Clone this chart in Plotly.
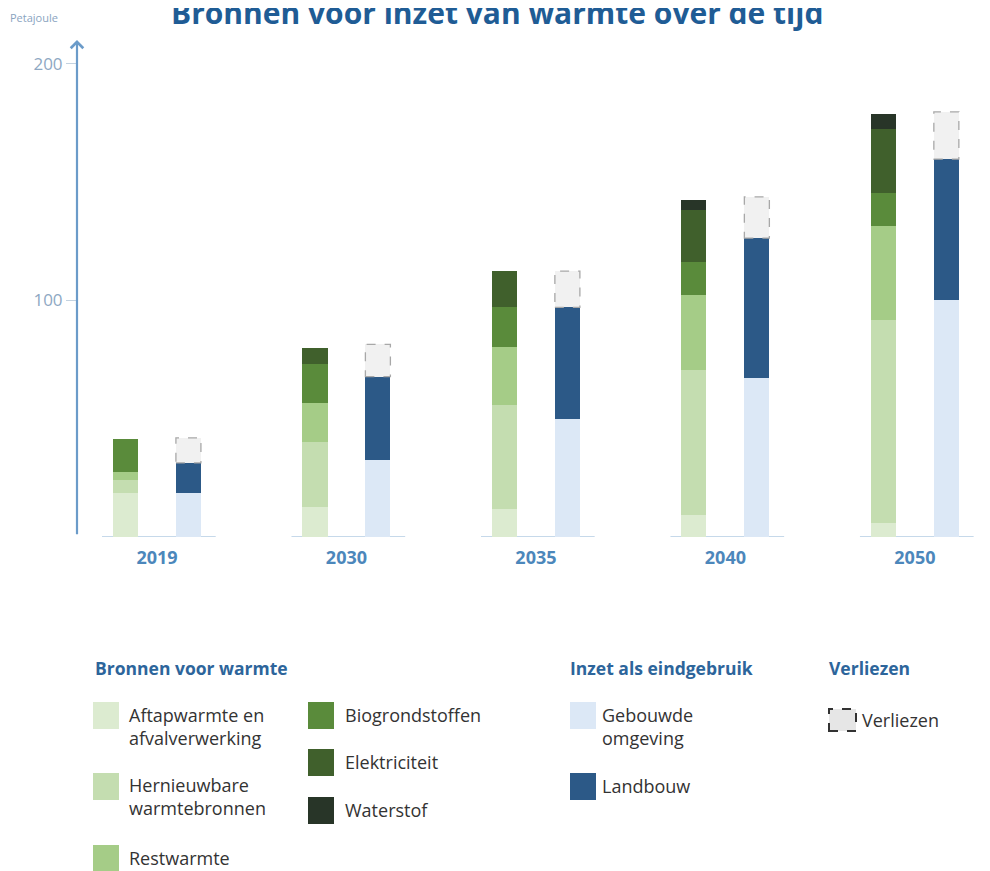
import plotly.graph_objects as go

# ---------------- data (Petajoule) ----------------
years = ["2019", "2030", "2035", "2040", "2050"]

# Bronnen voor warmte
aftapwarmte = [18.6, 12.7, 11.9, 9.3, 5.9]
hernieuwbaar = [5.5, 27.5, 44.0, 61.4, 85.6]
restwarmte = [3.4, 16.5, 24.2, 31.4, 39.8]
biogrondstoffen = [14.0, 16.5, 16.9, 14.0, 14.0]
elektriciteit = [0.0, 6.8, 15.3, 22.0, 27.1]
waterstof = [0.0, 0.0, 0.0, 4.2, 6.4]

# Inzet als eindgebruik
gebouwde_omgeving = [18.6, 32.6, 50.0, 67.0, 100.0]
landbouw = [12.7, 35.2, 47.0, 59.3, 59.7]

# Verliezen
verliezen = [10.6, 13.6, 15.3, 17.4, 19.9]

y_tick_values = [100, 200]
y_tick_labels = ["100", "200"]

# ---------------- styling ----------------
C_AFTAP = "#dcebd0"
C_HERN = "#c4ddb0"
C_REST = "#a5cc87"
C_BIO = "#5a8b3b"
C_ELEK = "#40602c"
C_WATER = "#283528"
C_GEB = "#dce8f6"
C_LAND = "#2c5987"
C_VERL = "#f1f1f1"

source_series = [
    ("Aftapwarmte en<br>afvalverwerking", aftapwarmte, C_AFTAP),
    ("Hernieuwbare<br>warmtebronnen", hernieuwbaar, C_HERN),
    ("Restwarmte", restwarmte, C_REST),
    ("Biogrondstoffen", biogrondstoffen, C_BIO),
    ("Elektriciteit", elektriciteit, C_ELEK),
    ("Waterstof", waterstof, C_WATER),
]
use_series = [
    ("Gebouwde<br>omgeving", gebouwde_omgeving, C_GEB),
    ("Landbouw", landbouw, C_LAND),
]

# page body has an 8px margin: lay out the figure in page coordinates
PAGE_OFF = 8
W, H = 990 - PAGE_OFF, 871 - PAGE_OFF
PLOT_L, PLOT_R, PLOT_T, PLOT_B = 77, 985, 40, 537  # plot area in page pixels
ML = PLOT_L - PAGE_OFF
MT = PLOT_T - PAGE_OFF
MR = W - (PLOT_R - PAGE_OFF)
MB = H - (PLOT_B - PAGE_OFF)
PW, PH = W - ML - MR, H - MT - MB

BAR_W = 0.132
SRC_OFF = -0.232
USE_OFF = 0.100

FONT = "Open Sans, Lato, sans-serif"

fig = go.Figure()


def add_stack(series, offset):
    base = [0.0] * len(years)
    for name, vals, color in series:
        fig.add_trace(go.Bar(
            x=years, y=vals, base=list(base), offset=offset, width=BAR_W,
            name=name.replace("<br>", " "), marker=dict(color=color, line=dict(width=0)),
            showlegend=False,
        ))
        base = [b + v for b, v in zip(base, vals)]
    return base


add_stack(source_series, SRC_OFF)
use_top = add_stack(use_series, USE_OFF)

# Verliezen on top of the usage bars
fig.add_trace(go.Bar(
    x=years, y=verliezen, base=use_top, offset=USE_OFF, width=BAR_W,
    name="Verliezen", marker=dict(color=C_VERL, line=dict(width=0)), showlegend=False,
))

shapes = []
for i, (b, v) in enumerate(zip(use_top, verliezen)):
    shapes.append(dict(
        type="rect", xref="x", yref="y",
        x0=i + USE_OFF, x1=i + USE_OFF + BAR_W, y0=b, y1=b + v,
        line=dict(color="#a8a8a8", width=1.3, dash="dash"), fillcolor="rgba(0,0,0,0)",
        layer="above",
    ))
# baselines below each year group
for i in range(len(years)):
    shapes.append(dict(
        type="line", xref="x", yref="y", x0=i - 0.29, x1=i + 0.31, y0=0, y1=0,
        line=dict(color="#b3cce3", width=1.5), layer="below",
    ))


def px(x):
    """page pixel x -> paper x"""
    return (x - PAGE_OFF - ML) / PW


def py(y):
    """page pixel y -> paper y"""
    return (H - MB - (y - PAGE_OFF)) / PH


annotations = []

# y-axis arrow
annotations.append(dict(
    x=-0.422, y=210, xref="x", yref="y", ax=-0.422, ay=0.5, axref="x", ayref="y",
    text="", showarrow=True, arrowhead=4, arrowsize=1.1, arrowwidth=2.2, arrowcolor="#6b9bc9",
    standoff=0, startstandoff=0,
))

# title and unit
annotations.append(dict(
    x=px(497), y=py(12), xref="paper", yref="paper", xanchor="center", yanchor="middle",
    text="<b>Bronnen voor inzet van warmte over de tijd</b>", showarrow=False,
    font=dict(family=FONT, size=30, color="#1f5c95"),
))
annotations.append(dict(
    x=px(8), y=py(18), xref="paper", yref="paper", xanchor="left", yanchor="middle",
    text="Petajoule", showarrow=False, font=dict(family=FONT, size=11, color="#8aa4bf"),
))

# ---------------- custom legend ----------------
HEAD_COLOR = "#2d659b"
TXT_COLOR = "#333333"
SW = 26

headers = [("Bronnen voor warmte", 93), ("Inzet als eindgebruik", 568), ("Verliezen", 827)]
for text, x in headers:
    annotations.append(dict(
        x=px(x), y=py(668), xref="paper", yref="paper", xanchor="left", yanchor="middle",
        text=f"<b>{text}</b>", showarrow=False, font=dict(family=FONT, size=17.5, color=HEAD_COLOR),
    ))

# (series, swatch x, swatch top y, text x) in page pixels
legend_layout = [
    (source_series[0], 93, 702, 127),
    (source_series[1], 93, 773, 127),
    (source_series[2], 93, 845, 127),
    (source_series[3], 308, 702, 343),
    (source_series[4], 308, 749, 343),
    (source_series[5], 308, 797, 343),
    (use_series[0], 570, 702, 600),
    (use_series[1], 570, 773, 600),
]
for (name, _, color), sx, sy, tx in legend_layout:
    shapes.append(dict(
        type="rect", xref="paper", yref="paper", x0=px(sx), x1=px(sx + SW), y0=py(sy + SW + 1), y1=py(sy),
        fillcolor=color, line=dict(width=0),
    ))
    nlines = name.count("<br>") + 1
    ty = sy + 13 if nlines == 1 else sy + 24
    annotations.append(dict(
        x=px(tx), y=py(ty), xref="paper", yref="paper", xanchor="left", yanchor="middle",
        text=name, align="left", showarrow=False, font=dict(family=FONT, size=18, color=TXT_COLOR),
    ))

# Verliezen legend entry
shapes.append(dict(
    type="rect", xref="paper", yref="paper", x0=px(829), x1=px(856), y0=py(731), y1=py(709),
    fillcolor="#e6e6e6", line=dict(color="#333333", width=2, dash="dash"),
))
annotations.append(dict(
    x=px(860), y=py(720), xref="paper", yref="paper", xanchor="left", yanchor="middle",
    text="Verliezen", showarrow=False, font=dict(family=FONT, size=18, color=TXT_COLOR),
))

fig.update_layout(
    width=W, height=H,
    margin=dict(l=ML, r=MR, t=MT, b=MB),
    paper_bgcolor="white", plot_bgcolor="white",
    barmode="overlay", bargap=0,
    showlegend=False,
    shapes=shapes, annotations=annotations,
    xaxis=dict(
        type="category", range=[-0.422, 4.37], showgrid=False, zeroline=False, showline=False,
        ticks="", tickfont=dict(family=FONT, size=18, color="#4c87bb", weight="bold"),
        ticklabelstandoff=8,
    ),
    yaxis=dict(
        range=[0, 210], showgrid=False, zeroline=False, showline=False,
        tickmode="array", tickvals=y_tick_values, ticktext=y_tick_labels,
        ticks="outside", ticklen=10, tickcolor="#c3d2e0", tickwidth=1,
        tickfont=dict(family=FONT, size=17, color="#8ea8c3"), ticklabelstandoff=0,
    ),
)

fig.write_html("out.html")
